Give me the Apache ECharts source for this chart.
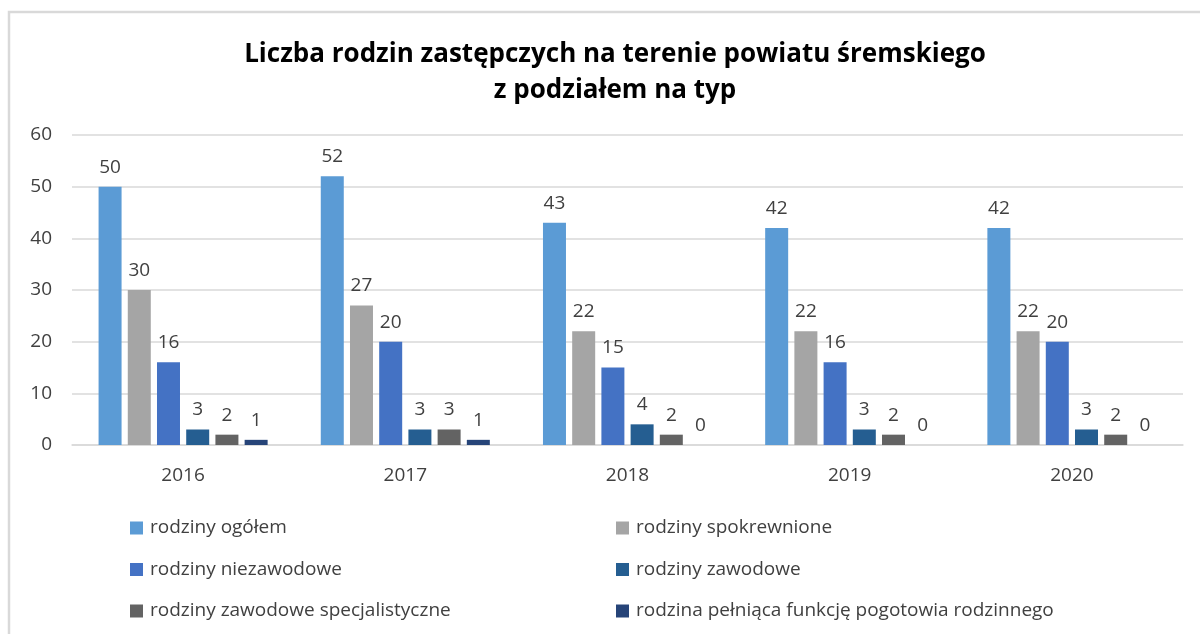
<!DOCTYPE html>
<html>
<head>
<meta charset="utf-8">
<script src="https://cdn.jsdelivr.net/npm/echarts@6/dist/echarts.min.js"></script>
<style>
  html, body { margin: 0; padding: 0; background: #fff; }
  #box1 { width: 1200px; height: 634px; }
</style>
</head>
<body>
<div id="box1"></div>
<script>
var years = ['2016', '2017', '2018', '2019', '2020'];
var seriesNames = [
  'rodziny ogółem',
  'rodziny spokrewnione',
  'rodziny niezawodowe',
  'rodziny zawodowe',
  'rodziny zawodowe specjalistyczne',
  'rodzina pełniąca funkcję pogotowia rodzinnego'
];
var ogolem = [50, 52, 43, 42, 42];
var spokrewnione = [30, 27, 22, 22, 22];
var niezawodowe = [16, 20, 15, 16, 20];
var zawodowe = [3, 3, 4, 3, 3];
var specjalistyczne = [2, 3, 2, 2, 2];
var pogotowie = [1, 1, 0, 0, 0];
var yTicks = [0, 10, 20, 30, 40, 50, 60];

var colors = ['#5B9BD5', '#A5A5A5', '#4472C4', '#255E91', '#636363', '#264478'];
var values = [ogolem, spokrewnione, niezawodowe, zawodowe, specjalistyczne, pogotowie];

var dom = document.getElementById('box1');
var myChart = echarts.init(dom);
var font = 'Open Sans';

var series = seriesNames.map(function (name, i) {
  return {
    name: name,
    type: 'bar',
    data: values[i],
    barWidth: 23,
    barGap: '27%',
    itemStyle: { color: colors[i] },
    label: {
      show: true,
      position: 'top',
      distance: 10,
      color: '#404040',
      fontFamily: font,
      fontSize: 19
    }
  };
});

var legendText = { color: '#404040', fontSize: 19, lineHeight: 20, fontFamily: font, padding: [0, 0, 0, 2] };

var option = {
  animation: false,
  textStyle: { fontFamily: font },
  color: colors,
  title: {
    text: 'Liczba rodzin zastępczych na terenie powiatu śremskiego\nz podziałem na typ',
    left: 610,
    textAlign: 'center',
    top: 32,
    textStyle: {
      fontFamily: font,
      fontWeight: 'bold',
      fontSize: 26,
      lineHeight: 36,
      color: '#000'
    }
  },
  graphic: [{
    type: 'rect',
    shape: { x: 9, y: 12, width: 1300, height: 800 },
    style: { fill: 'none', stroke: '#d9d9d9', lineWidth: 2.5 },
    silent: true
  }],
  legend: [{
    orient: 'vertical',
    left: 125,
    top: 513,
    itemWidth: 13,
    itemHeight: 13,
    itemGap: 21.5,
    icon: 'rect',
    textStyle: legendText,
    data: [seriesNames[0], seriesNames[2], seriesNames[4]]
  }, {
    orient: 'vertical',
    left: 611,
    top: 513,
    itemWidth: 13,
    itemHeight: 13,
    itemGap: 21.5,
    icon: 'rect',
    textStyle: legendText,
    data: [seriesNames[1], seriesNames[3], seriesNames[5]]
  }],
  grid: {
    left: 72,
    right: 17,
    top: 135,
    bottom: 189,
    containLabel: false
  },
  xAxis: {
    type: 'category',
    data: years,
    axisTick: { show: false },
    axisLine: { lineStyle: { color: '#d9d9d9', width: 1.5 } },
    axisLabel: { color: '#404040', fontSize: 19, fontFamily: font, margin: 21 }
  },
  yAxis: {
    type: 'value',
    min: yTicks[0],
    max: yTicks[yTicks.length - 1],
    interval: 10,
    axisLine: { show: false },
    axisTick: { show: false },
    splitLine: { lineStyle: { color: '#d9d9d9', width: 1.5 } },
    axisLabel: { color: '#404040', fontSize: 19, fontFamily: font, margin: 20 }
  },
  series: series
};

if (option && typeof option === 'object') {
  myChart.setOption(option);
}
</script>
</body>
</html>
